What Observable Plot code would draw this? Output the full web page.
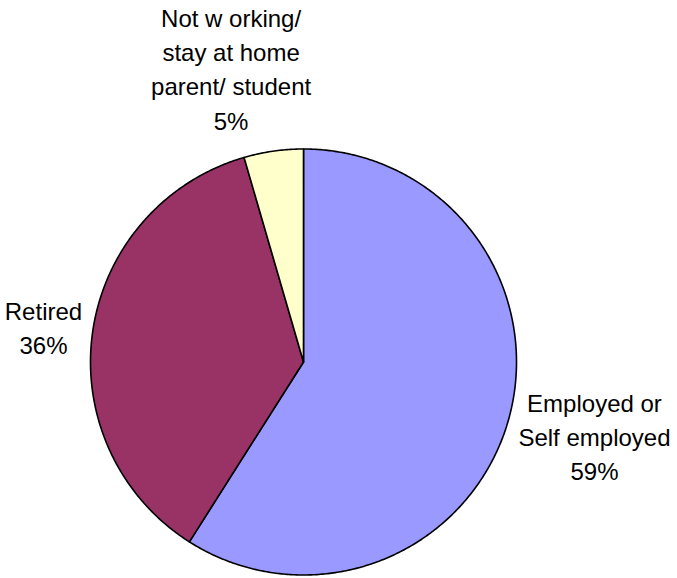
<!DOCTYPE html>
<html>
<head>
<meta charset="utf-8">
<script src="https://cdn.jsdelivr.net/npm/d3@7"></script>
<script src="https://cdn.jsdelivr.net/npm/@observablehq/plot@0.6"></script>
<style>
  html, body { margin: 0; padding: 0; background: #fff; }
</style>
</head>
<body>
<div id="chart"></div>
<script>
// ---- data ----
const categories = ["Employed or Self employed", "Retired", "Not working/ stay at home parent/ student"];
const values = [59.0, 36.5, 4.5];
const labelNames = ["Employed or\nSelf employed", "Retired", "Not w orking/\nstay at home\nparent/ student"];
const pctLabels = ["59%", "36%", "5%"];
const colors = ["#9999FF", "#993366", "#FFFFCC"];

// ---- layout ----
const W = 677, H = 578;
const cx = 303, cy = 361.5, R = 213;
const fontSize = 24, lineHeight = 1.43;
const gapPx = 15;
const labelNudge = [[-1, -5], [4, 1], [-29, -1]]; // px, screen coords

// slices via d3.pie (clockwise from 12 o'clock)
const pie = d3.pie().sort(null).value(d => d)(values);
const slicePoints = [];
pie.forEach((p, i) => {
  const n = Math.max(2, Math.ceil((p.endAngle - p.startAngle) / (Math.PI / 360)));
  slicePoints.push({cat: categories[i], x: 0, y: 0});
  for (let k = 0; k <= n; k++) {
    const a = p.startAngle + (p.endAngle - p.startAngle) * k / n;
    slicePoints.push({cat: categories[i], x: Math.sin(a), y: Math.cos(a)});
  }
  slicePoints.push({cat: categories[i], x: 0, y: 0});
});

// label positions: just outside the pie along the mid-angle
const ctx = document.createElement("canvas").getContext("2d");
ctx.font = `${fontSize}px "Liberation Sans", Arial, sans-serif`;
const labels = pie.map((p, i) => {
  const text = labelNames[i] + "\n" + pctLabels[i];
  const lines = text.split("\n");
  const w = d3.max(lines, l => ctx.measureText(l).width);
  const h = lines.length * fontSize * lineHeight;
  const a = (p.startAngle + p.endAngle) / 2;
  const ux = Math.sin(a), uy = Math.cos(a);
  const r = 1 + gapPx / R;
  return {
    text,
    x: ux * r + (ux * (w / 2) + labelNudge[i][0]) / R,
    y: uy * r + (uy * (h / 2) - labelNudge[i][1]) / R
  };
});

const chart = Plot.plot({
  width: W,
  height: H,
  margin: 0,
  x: {domain: [-1, 1], range: [cx - R, cx + R], axis: null},
  y: {domain: [-1, 1], range: [cy + R, cy - R], axis: null},
  color: {domain: categories, range: colors},
  style: {background: "white", fontFamily: '"Liberation Sans", Arial, sans-serif'},
  marks: [
    Plot.line(slicePoints, {
      x: "x", y: "y", z: "cat", fill: "cat",
      stroke: "black", strokeWidth: 1.6, strokeLinejoin: "round"
    }),
    Plot.text(labels, {
      x: "x", y: "y", text: "text",
      fontSize, lineHeight, textAnchor: "middle", lineAnchor: "middle",
      fill: "black"
    })
  ]
});
document.getElementById("chart").append(chart);
</script>
</body>
</html>
